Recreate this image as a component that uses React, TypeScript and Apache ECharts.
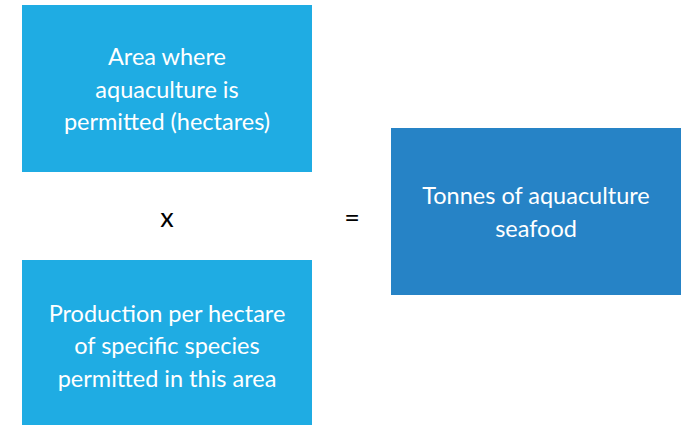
import React, { useEffect, useRef } from "react";
import * as echarts from "echarts";

const boxLabels: string[] = [
  "Area where\naquaculture is\npermitted (hectares)",
  "Production per hectare\nof specific species\npermitted in this area",
  "Tonnes of aquaculture\nseafood",
];
const operators: string[] = ["x", "="];

const LIGHT = "#1FACE3";
const DARK = "#2683C6";
const FONT = "Lato, 'Open Sans', sans-serif";

export default function App() {
  const ref = useRef<HTMLDivElement>(null);
  useEffect(() => {
    if (!ref.current) return;
    const chart = echarts.init(ref.current, null, { renderer: "svg" });
    const box = (x: number, y: number, w: number, h: number, fill: string, label: string) => ({
      type: "group",
      children: [
        { type: "rect", shape: { x, y, width: w, height: h }, style: { fill } },
        {
          type: "text",
          x: x + w / 2,
          y: y + h / 2,
          style: {
            text: label,
            fill: "#FFFFFF",
            fontSize: 23.5,
            fontFamily: FONT,
            lineHeight: 32.5,
            align: "center",
            verticalAlign: "middle",
          },
        },
      ],
    });
    chart.setOption({
      animation: false,
      graphic: [
        box(22, 5, 290, 167, LIGHT, boxLabels[0]),
        box(22, 260, 290, 170, LIGHT, boxLabels[1]),
        box(391, 128, 290, 167, DARK, boxLabels[2]),
        {
          type: "text",
          x: 167,
          y: 216,
          style: { text: operators[0], fill: "#000", fontSize: 27, fontFamily: FONT, align: "center", verticalAlign: "middle" },
        },
        {
          type: "text",
          x: 352,
          y: 216,
          style: { text: operators[1], fill: "#000", fontSize: 27, fontFamily: FONT, align: "center", verticalAlign: "middle" },
        },
      ],
    });
    return () => chart.dispose();
  }, []);
  return (
    <div
      ref={ref}
      style={{ position: "fixed", left: 0, top: 0, width: 681, height: 425, background: "#fff" }}
    />
  );
}
